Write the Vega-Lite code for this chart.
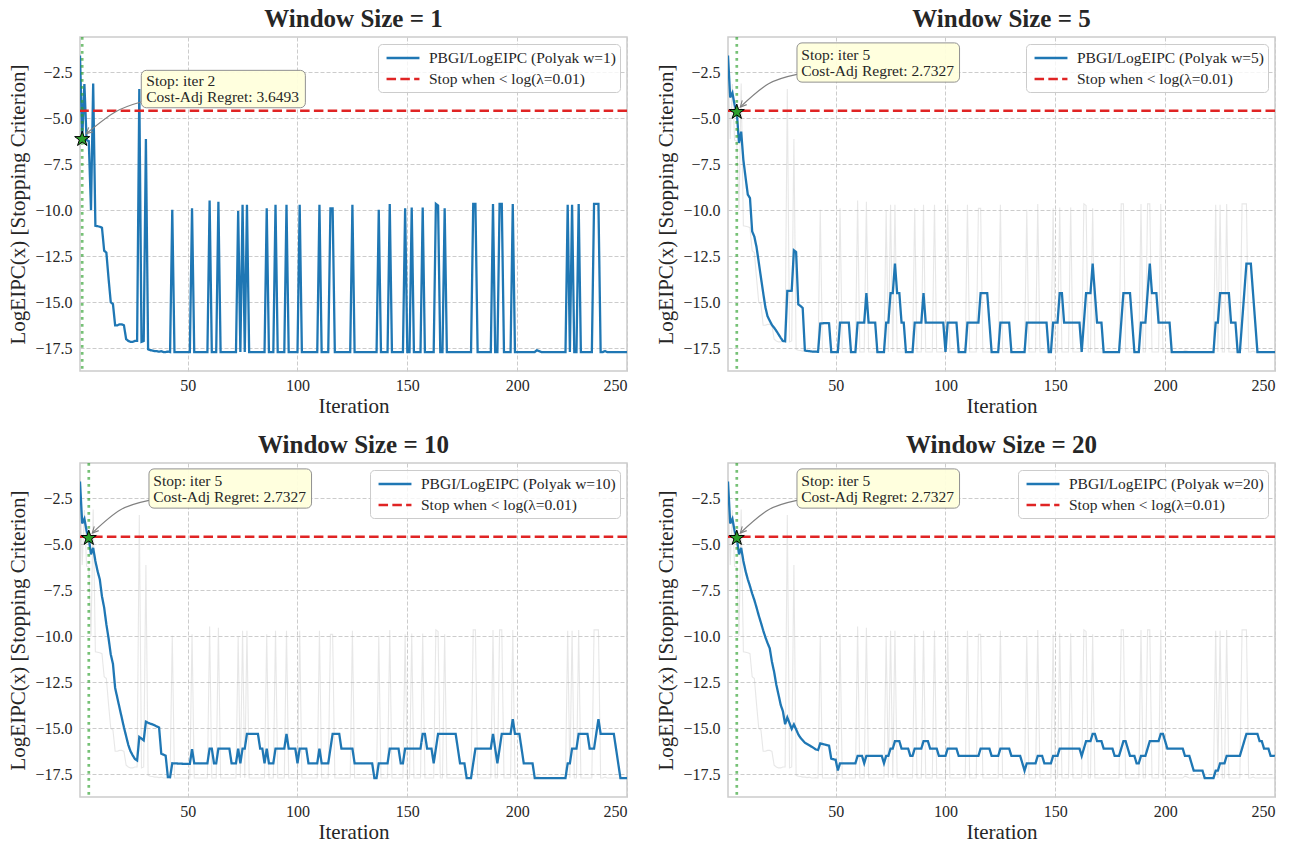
{
"$schema": "https://vega.github.io/schema/vega-lite/v6.json",
"background": "white",
"padding": {"left": 7, "top": 5, "right": 10, "bottom": 0},
"columns": 2,
"spacing": {"row": 92, "column": 101},
"bounds": "flush",
"resolve": {"scale": {"color": "independent", "strokeDash": "independent", "x": "independent", "y": "independent"}, "legend": {"color": "independent", "strokeDash": "independent"}},
"config": {
  "font": "Liberation Serif",
  "view": {"stroke": "#cccccc", "strokeWidth": 1.5},
  "axis": {"labelFont": "Liberation Serif", "labelFontSize": 16, "labelColor": "#262626", "titleFont": "Liberation Serif", "titleFontSize": 21, "titleFontWeight": "normal", "titleColor": "#262626", "gridColor": "#cccccc", "gridDash": [4, 2], "gridWidth": 1, "domain": false, "ticks": false},
  "axisX": {"labelPadding": 6, "titlePadding": 2},
  "axisY": {"labelPadding": 8, "titlePadding": 6},
  "title": {"font": "Liberation Serif", "fontSize": 25, "fontWeight": "bold", "color": "#262626", "offset": 0},
  "legend": {"orient": "top-right", "offset": 7, "padding": 4, "fillColor": "rgba(255,255,255,0.8)", "strokeColor": "#cccccc", "cornerRadius": 4, "labelFont": "Liberation Serif", "labelFontSize": 15.5, "labelColor": "#262626", "labelLimit": 400, "labelOffset": 16, "rowPadding": 2, "symbolOffset": 11, "symbolStrokeWidth": 2.3}
},
"datasets": {"main": [
{"i":1,"r":-1.61,"a":-1.61,"b":-1.61,"c":-1.61},
{"i":2,"r":-6.14,"a":-3.88,"b":-3.88,"c":-3.88},
{"i":3,"r":-3.15,"a":-3.63,"b":-3.63,"c":-3.63},
{"i":4,"r":-6.2,"a":-4.28,"b":-4.28,"c":-4.28},
{"i":5,"r":-6.25,"a":-4.67,"b":-4.67,"c":-4.67},
{"i":6,"r":-10.0,"a":-6.35,"b":-5.56,"c":-5.56},
{"i":7,"r":-3.12,"a":-5.74,"b":-5.21,"c":-5.21},
{"i":8,"r":-10.85,"a":-7.28,"b":-5.92,"c":-5.92},
{"i":9,"r":-10.87,"a":-8.22,"b":-6.47,"c":-6.47},
{"i":10,"r":-10.9,"a":-9.15,"b":-6.91,"c":-6.91},
{"i":11,"r":-10.95,"a":-9.34,"b":-7.84,"c":-7.28},
{"i":12,"r":-12.2,"a":-11.15,"b":-8.45,"c":-7.69},
{"i":13,"r":-12.3,"a":-11.44,"b":-9.36,"c":-8.04},
{"i":14,"r":-13.7,"a":-12.01,"b":-10.11,"c":-8.45},
{"i":15,"r":-15.0,"a":-12.83,"b":-10.99,"c":-8.88},
{"i":16,"r":-15.1,"a":-13.66,"b":-11.5,"c":-9.27},
{"i":17,"r":-16.25,"a":-14.47,"b":-12.81,"c":-9.68},
{"i":18,"r":-16.25,"a":-15.26,"b":-13.35,"c":-10.05},
{"i":19,"r":-16.2,"a":-15.76,"b":-13.89,"c":-10.37},
{"i":20,"r":-16.2,"a":-16.0,"b":-14.42,"c":-10.66},
{"i":21,"r":-16.25,"a":-16.23,"b":-14.95,"c":-11.39},
{"i":22,"r":-17.0,"a":-16.38,"b":-15.43,"c":-11.94},
{"i":23,"r":-17.1,"a":-16.55,"b":-15.91,"c":-12.64},
{"i":24,"r":-17.15,"a":-16.74,"b":-16.25,"c":-13.18},
{"i":25,"r":-17.15,"a":-16.93,"b":-16.47,"c":-13.73},
{"i":26,"r":-17.1,"a":-17.1,"b":-16.67,"c":-14.08},
{"i":27,"r":-17.1,"a":-17.12,"b":-16.75,"c":-14.78},
{"i":28,"r":-3.42,"a":-14.38,"b":-15.47,"c":-14.41},
{"i":29,"r":-17.15,"a":-14.38,"b":-15.56,"c":-14.72},
{"i":30,"r":-17.1,"a":-14.37,"b":-15.65,"c":-15.03},
{"i":31,"r":-6.14,"a":-12.18,"b":-14.64,"c":-14.79},
{"i":32,"r":-17.55,"a":-12.27,"b":-14.7,"c":-15.06},
{"i":33,"r":-17.6,"a":-15.11,"b":-14.75,"c":-15.33},
{"i":34,"r":-17.62,"a":-15.2,"b":-14.79,"c":-15.52},
{"i":35,"r":-17.65,"a":-15.31,"b":-14.84,"c":-15.65},
{"i":36,"r":-17.65,"a":-17.61,"b":-14.9,"c":-15.78},
{"i":37,"r":-17.68,"a":-17.64,"b":-14.96,"c":-15.85},
{"i":38,"r":-17.65,"a":-17.65,"b":-16.38,"c":-15.92},
{"i":39,"r":-17.7,"a":-17.67,"b":-16.43,"c":-16.0},
{"i":40,"r":-17.7,"a":-17.68,"b":-16.49,"c":-16.07},
{"i":41,"r":-17.68,"a":-17.68,"b":-17.65,"c":-16.15},
{"i":42,"r":-17.7,"a":-17.69,"b":-17.66,"c":-16.18},
{"i":43,"r":-9.98,"a":-16.15,"b":-16.9,"c":-15.82},
{"i":44,"r":-17.7,"a":-16.14,"b":-16.91,"c":-15.85},
{"i":45,"r":-17.7,"a":-16.13,"b":-16.91,"c":-15.88},
{"i":46,"r":-17.7,"a":-16.13,"b":-16.92,"c":-15.91},
{"i":47,"r":-17.7,"a":-16.14,"b":-16.92,"c":-15.94},
{"i":48,"r":-17.7,"a":-17.7,"b":-16.93,"c":-16.65},
{"i":49,"r":-17.7,"a":-17.7,"b":-16.93,"c":-16.68},
{"i":50,"r":-17.7,"a":-17.7,"b":-16.93,"c":-16.71},
{"i":51,"r":-17.7,"a":-17.7,"b":-16.93,"c":-17.29},
{"i":52,"r":-9.9,"a":-16.1,"b":-16.13,"c":-16.9},
{"i":53,"r":-17.7,"a":-16.1,"b":-16.9,"c":-16.9},
{"i":54,"r":-17.7,"a":-16.1,"b":-16.9,"c":-16.9},
{"i":55,"r":-17.7,"a":-16.1,"b":-16.9,"c":-16.9},
{"i":56,"r":-17.7,"a":-16.1,"b":-16.9,"c":-16.9},
{"i":57,"r":-17.7,"a":-17.7,"b":-16.9,"c":-16.9},
{"i":58,"r":-17.7,"a":-17.7,"b":-16.9,"c":-16.9},
{"i":59,"r":-17.7,"a":-17.7,"b":-16.9,"c":-16.9},
{"i":60,"r":-9.48,"a":-16.1,"b":-16.1,"c":-16.5},
{"i":61,"r":-17.7,"a":-16.1,"b":-16.1,"c":-16.5},
{"i":62,"r":-17.7,"a":-16.1,"b":-16.9,"c":-16.5},
{"i":63,"r":-17.7,"a":-16.1,"b":-16.9,"c":-16.9},
{"i":64,"r":-9.55,"a":-14.5,"b":-16.1,"c":-16.5},
{"i":65,"r":-17.7,"a":-16.1,"b":-16.1,"c":-16.5},
{"i":66,"r":-17.7,"a":-16.1,"b":-16.1,"c":-16.5},
{"i":67,"r":-17.7,"a":-16.1,"b":-16.1,"c":-16.5},
{"i":68,"r":-17.7,"a":-16.1,"b":-16.1,"c":-16.5},
{"i":69,"r":-17.7,"a":-17.7,"b":-16.1,"c":-16.5},
{"i":70,"r":-17.7,"a":-17.7,"b":-16.9,"c":-16.5},
{"i":71,"r":-17.7,"a":-17.7,"b":-16.9,"c":-16.5},
{"i":72,"r":-17.7,"a":-17.7,"b":-16.9,"c":-16.9},
{"i":73,"r":-10.05,"a":-16.1,"b":-16.1,"c":-16.5},
{"i":74,"r":-17.7,"a":-16.1,"b":-16.9,"c":-16.5},
{"i":75,"r":-9.7,"a":-14.5,"b":-16.1,"c":-16.1},
{"i":76,"r":-17.7,"a":-14.5,"b":-16.1,"c":-16.1},
{"i":77,"r":-9.7,"a":-12.9,"b":-15.3,"c":-15.7},
{"i":78,"r":-17.7,"a":-14.5,"b":-15.3,"c":-15.7},
{"i":79,"r":-17.7,"a":-14.5,"b":-15.3,"c":-15.7},
{"i":80,"r":-17.7,"a":-16.1,"b":-15.3,"c":-16.1},
{"i":81,"r":-17.7,"a":-16.1,"b":-15.3,"c":-16.1},
{"i":82,"r":-17.7,"a":-17.7,"b":-15.3,"c":-16.1},
{"i":83,"r":-17.7,"a":-17.7,"b":-16.1,"c":-16.1},
{"i":84,"r":-17.7,"a":-17.7,"b":-16.1,"c":-16.5},
{"i":85,"r":-17.7,"a":-17.7,"b":-16.9,"c":-16.5},
{"i":86,"r":-9.9,"a":-16.1,"b":-16.1,"c":-16.1},
{"i":87,"r":-17.7,"a":-16.1,"b":-16.9,"c":-16.1},
{"i":88,"r":-17.7,"a":-16.1,"b":-16.9,"c":-16.1},
{"i":89,"r":-17.7,"a":-16.1,"b":-16.9,"c":-16.1},
{"i":90,"r":-9.7,"a":-14.5,"b":-16.1,"c":-15.7},
{"i":91,"r":-17.7,"a":-16.1,"b":-16.1,"c":-15.7},
{"i":92,"r":-17.7,"a":-16.1,"b":-16.1,"c":-15.7},
{"i":93,"r":-17.7,"a":-16.1,"b":-16.1,"c":-16.1},
{"i":94,"r":-17.7,"a":-16.1,"b":-16.1,"c":-16.1},
{"i":95,"r":-9.7,"a":-16.1,"b":-15.3,"c":-16.1},
{"i":96,"r":-17.7,"a":-16.1,"b":-16.1,"c":-16.1},
{"i":97,"r":-17.7,"a":-16.1,"b":-16.1,"c":-16.5},
{"i":98,"r":-17.7,"a":-16.1,"b":-16.1,"c":-16.5},
{"i":99,"r":-17.7,"a":-16.1,"b":-16.1,"c":-16.5},
{"i":100,"r":-17.7,"a":-17.7,"b":-16.9,"c":-16.5},
{"i":101,"r":-9.7,"a":-16.1,"b":-16.1,"c":-16.1},
{"i":102,"r":-17.7,"a":-16.1,"b":-16.1,"c":-16.1},
{"i":103,"r":-17.7,"a":-16.1,"b":-16.1,"c":-16.1},
{"i":104,"r":-17.7,"a":-16.1,"b":-16.1,"c":-16.1},
{"i":105,"r":-17.7,"a":-16.1,"b":-16.9,"c":-16.1},
{"i":106,"r":-17.7,"a":-17.7,"b":-16.9,"c":-16.5},
{"i":107,"r":-17.7,"a":-17.7,"b":-16.9,"c":-16.5},
{"i":108,"r":-17.7,"a":-17.7,"b":-16.9,"c":-16.5},
{"i":109,"r":-17.7,"a":-17.7,"b":-16.9,"c":-16.5},
{"i":110,"r":-9.7,"a":-16.1,"b":-16.1,"c":-16.5},
{"i":111,"r":-17.7,"a":-16.1,"b":-16.9,"c":-16.5},
{"i":112,"r":-17.7,"a":-16.1,"b":-16.9,"c":-16.5},
{"i":113,"r":-17.7,"a":-16.1,"b":-16.9,"c":-16.5},
{"i":114,"r":-17.7,"a":-16.1,"b":-16.9,"c":-16.5},
{"i":115,"r":-9.9,"a":-16.1,"b":-16.1,"c":-16.5},
{"i":116,"r":-9.9,"a":-14.5,"b":-15.3,"c":-16.1},
{"i":117,"r":-17.7,"a":-14.5,"b":-15.3,"c":-16.1},
{"i":118,"r":-17.7,"a":-14.5,"b":-15.3,"c":-16.1},
{"i":119,"r":-17.7,"a":-14.5,"b":-15.3,"c":-16.1},
{"i":120,"r":-17.7,"a":-16.1,"b":-16.1,"c":-16.1},
{"i":121,"r":-17.7,"a":-17.7,"b":-16.1,"c":-16.5},
{"i":122,"r":-17.7,"a":-17.7,"b":-16.1,"c":-16.5},
{"i":123,"r":-17.7,"a":-17.7,"b":-16.1,"c":-16.5},
{"i":124,"r":-17.7,"a":-17.7,"b":-16.1,"c":-16.5},
{"i":125,"r":-9.7,"a":-16.1,"b":-16.1,"c":-16.1},
{"i":126,"r":-17.7,"a":-16.1,"b":-16.9,"c":-16.1},
{"i":127,"r":-17.7,"a":-16.1,"b":-16.9,"c":-16.1},
{"i":128,"r":-17.7,"a":-16.1,"b":-16.9,"c":-16.1},
{"i":129,"r":-17.7,"a":-16.1,"b":-16.9,"c":-16.1},
{"i":130,"r":-17.7,"a":-17.7,"b":-16.9,"c":-16.5},
{"i":131,"r":-17.7,"a":-17.7,"b":-16.9,"c":-16.5},
{"i":132,"r":-17.7,"a":-17.7,"b":-16.9,"c":-16.5},
{"i":133,"r":-17.7,"a":-17.7,"b":-16.9,"c":-16.5},
{"i":134,"r":-17.7,"a":-17.7,"b":-16.9,"c":-16.5},
{"i":135,"r":-17.7,"a":-17.7,"b":-17.7,"c":-16.9},
{"i":136,"r":-17.7,"a":-17.7,"b":-17.7,"c":-17.3},
{"i":137,"r":-9.98,"a":-16.1,"b":-16.9,"c":-16.9},
{"i":138,"r":-17.7,"a":-16.1,"b":-16.9,"c":-16.9},
{"i":139,"r":-17.7,"a":-16.1,"b":-16.9,"c":-16.9},
{"i":140,"r":-17.7,"a":-16.1,"b":-16.9,"c":-16.9},
{"i":141,"r":-17.7,"a":-16.1,"b":-16.9,"c":-16.9},
{"i":142,"r":-9.66,"a":-16.1,"b":-16.1,"c":-16.5},
{"i":143,"r":-17.7,"a":-16.1,"b":-16.1,"c":-16.5},
{"i":144,"r":-17.7,"a":-16.1,"b":-16.1,"c":-16.5},
{"i":145,"r":-17.7,"a":-16.1,"b":-16.1,"c":-16.9},
{"i":146,"r":-17.7,"a":-16.1,"b":-16.1,"c":-16.9},
{"i":147,"r":-17.7,"a":-17.7,"b":-16.9,"c":-16.9},
{"i":148,"r":-17.7,"a":-17.7,"b":-16.9,"c":-16.9},
{"i":149,"r":-9.9,"a":-16.1,"b":-16.1,"c":-16.5},
{"i":150,"r":-17.7,"a":-16.1,"b":-16.1,"c":-16.5},
{"i":151,"r":-17.7,"a":-16.1,"b":-16.1,"c":-16.5},
{"i":152,"r":-9.85,"a":-14.5,"b":-16.1,"c":-16.1},
{"i":153,"r":-17.7,"a":-14.5,"b":-16.1,"c":-16.1},
{"i":154,"r":-17.7,"a":-16.1,"b":-16.1,"c":-16.1},
{"i":155,"r":-17.7,"a":-16.1,"b":-16.1,"c":-16.1},
{"i":156,"r":-17.7,"a":-16.1,"b":-16.1,"c":-16.1},
{"i":157,"r":-9.85,"a":-16.1,"b":-15.3,"c":-16.1},
{"i":158,"r":-17.7,"a":-16.1,"b":-15.3,"c":-16.1},
{"i":159,"r":-17.7,"a":-16.1,"b":-16.1,"c":-16.1},
{"i":160,"r":-17.7,"a":-16.1,"b":-16.1,"c":-16.1},
{"i":161,"r":-17.7,"a":-16.1,"b":-16.1,"c":-16.1},
{"i":162,"r":-17.7,"a":-17.7,"b":-16.9,"c":-16.5},
{"i":163,"r":-9.66,"a":-16.1,"b":-16.1,"c":-16.1},
{"i":164,"r":-9.75,"a":-14.5,"b":-15.3,"c":-15.7},
{"i":165,"r":-17.7,"a":-14.5,"b":-15.3,"c":-15.7},
{"i":166,"r":-17.7,"a":-14.5,"b":-15.3,"c":-15.7},
{"i":167,"r":-9.9,"a":-12.9,"b":-15.3,"c":-15.3},
{"i":168,"r":-17.7,"a":-14.5,"b":-15.3,"c":-15.3},
{"i":169,"r":-17.7,"a":-16.1,"b":-15.3,"c":-15.7},
{"i":170,"r":-17.7,"a":-16.1,"b":-15.3,"c":-15.7},
{"i":171,"r":-17.7,"a":-16.1,"b":-15.3,"c":-15.7},
{"i":172,"r":-17.7,"a":-17.7,"b":-15.3,"c":-16.1},
{"i":173,"r":-17.7,"a":-17.7,"b":-16.1,"c":-16.1},
{"i":174,"r":-17.7,"a":-17.7,"b":-16.9,"c":-16.1},
{"i":175,"r":-17.7,"a":-17.7,"b":-16.9,"c":-16.1},
{"i":176,"r":-17.7,"a":-17.7,"b":-16.9,"c":-16.1},
{"i":177,"r":-17.7,"a":-17.7,"b":-17.7,"c":-16.5},
{"i":178,"r":-17.7,"a":-17.7,"b":-17.7,"c":-16.5},
{"i":179,"r":-17.7,"a":-17.7,"b":-17.7,"c":-16.5},
{"i":180,"r":-9.66,"a":-16.1,"b":-16.9,"c":-16.1},
{"i":181,"r":-9.66,"a":-14.5,"b":-16.1,"c":-15.7},
{"i":182,"r":-17.7,"a":-14.5,"b":-16.1,"c":-15.7},
{"i":183,"r":-17.7,"a":-14.5,"b":-16.1,"c":-16.1},
{"i":184,"r":-17.7,"a":-14.5,"b":-16.1,"c":-16.5},
{"i":185,"r":-17.7,"a":-16.1,"b":-16.1,"c":-16.5},
{"i":186,"r":-17.7,"a":-17.7,"b":-16.1,"c":-16.5},
{"i":187,"r":-17.7,"a":-17.7,"b":-16.1,"c":-16.9},
{"i":188,"r":-17.7,"a":-17.7,"b":-16.1,"c":-16.9},
{"i":189,"r":-9.66,"a":-16.1,"b":-15.3,"c":-16.5},
{"i":190,"r":-17.7,"a":-16.1,"b":-16.1,"c":-16.5},
{"i":191,"r":-17.7,"a":-16.1,"b":-16.9,"c":-16.5},
{"i":192,"r":-9.66,"a":-14.5,"b":-16.1,"c":-16.1},
{"i":193,"r":-9.66,"a":-12.9,"b":-15.3,"c":-15.7},
{"i":194,"r":-17.7,"a":-14.5,"b":-15.3,"c":-15.7},
{"i":195,"r":-17.7,"a":-14.5,"b":-15.3,"c":-15.7},
{"i":196,"r":-17.7,"a":-14.5,"b":-15.3,"c":-15.7},
{"i":197,"r":-17.7,"a":-16.1,"b":-15.3,"c":-15.7},
{"i":198,"r":-9.66,"a":-16.1,"b":-14.5,"c":-15.3},
{"i":199,"r":-17.7,"a":-16.1,"b":-15.3,"c":-15.3},
{"i":200,"r":-17.7,"a":-16.1,"b":-15.3,"c":-15.7},
{"i":201,"r":-17.7,"a":-16.1,"b":-15.3,"c":-16.1},
{"i":202,"r":-17.7,"a":-16.1,"b":-16.1,"c":-16.1},
{"i":203,"r":-17.7,"a":-17.7,"b":-16.9,"c":-16.1},
{"i":204,"r":-17.7,"a":-17.7,"b":-16.9,"c":-16.1},
{"i":205,"r":-17.7,"a":-17.7,"b":-16.9,"c":-16.1},
{"i":206,"r":-17.7,"a":-17.7,"b":-16.9,"c":-16.1},
{"i":207,"r":-17.7,"a":-17.7,"b":-16.9,"c":-16.1},
{"i":208,"r":-17.7,"a":-17.7,"b":-17.7,"c":-16.1},
{"i":209,"r":-17.6,"a":-17.7,"b":-17.7,"c":-16.5},
{"i":210,"r":-17.65,"a":-17.7,"b":-17.7,"c":-16.5},
{"i":211,"r":-17.7,"a":-17.7,"b":-17.7,"c":-16.5},
{"i":212,"r":-17.7,"a":-17.7,"b":-17.7,"c":-16.9},
{"i":213,"r":-17.7,"a":-17.7,"b":-17.7,"c":-17.3},
{"i":214,"r":-17.7,"a":-17.7,"b":-17.7,"c":-17.3},
{"i":215,"r":-17.7,"a":-17.7,"b":-17.7,"c":-17.3},
{"i":216,"r":-17.7,"a":-17.7,"b":-17.7,"c":-17.3},
{"i":217,"r":-17.7,"a":-17.7,"b":-17.7,"c":-17.3},
{"i":218,"r":-17.7,"a":-17.7,"b":-17.7,"c":-17.7},
{"i":219,"r":-17.7,"a":-17.7,"b":-17.7,"c":-17.7},
{"i":220,"r":-17.7,"a":-17.7,"b":-17.7,"c":-17.7},
{"i":221,"r":-17.7,"a":-17.7,"b":-17.7,"c":-17.7},
{"i":222,"r":-17.7,"a":-17.7,"b":-17.7,"c":-17.7},
{"i":223,"r":-9.7,"a":-16.1,"b":-16.9,"c":-17.3},
{"i":224,"r":-17.7,"a":-16.1,"b":-16.9,"c":-17.3},
{"i":225,"r":-9.7,"a":-14.5,"b":-16.1,"c":-16.9},
{"i":226,"r":-17.7,"a":-14.5,"b":-16.1,"c":-16.9},
{"i":227,"r":-17.7,"a":-14.5,"b":-16.1,"c":-16.9},
{"i":228,"r":-9.66,"a":-14.5,"b":-15.3,"c":-16.5},
{"i":229,"r":-17.7,"a":-14.5,"b":-15.3,"c":-16.5},
{"i":230,"r":-17.7,"a":-16.1,"b":-15.3,"c":-16.5},
{"i":231,"r":-17.7,"a":-16.1,"b":-15.3,"c":-16.5},
{"i":232,"r":-17.7,"a":-16.1,"b":-15.3,"c":-16.5},
{"i":233,"r":-17.7,"a":-17.7,"b":-16.1,"c":-16.5},
{"i":234,"r":-17.7,"a":-17.7,"b":-16.1,"c":-16.5},
{"i":235,"r":-9.66,"a":-16.1,"b":-16.1,"c":-16.1},
{"i":236,"r":-9.66,"a":-14.5,"b":-15.3,"c":-15.7},
{"i":237,"r":-9.66,"a":-12.9,"b":-14.5,"c":-15.3},
{"i":238,"r":-17.7,"a":-12.9,"b":-15.3,"c":-15.3},
{"i":239,"r":-17.7,"a":-12.9,"b":-15.3,"c":-15.3},
{"i":240,"r":-17.65,"a":-14.5,"b":-15.3,"c":-15.3},
{"i":241,"r":-17.7,"a":-16.1,"b":-15.3,"c":-15.3},
{"i":242,"r":-17.7,"a":-17.7,"b":-15.3,"c":-15.3},
{"i":243,"r":-17.7,"a":-17.7,"b":-15.3,"c":-15.7},
{"i":244,"r":-17.7,"a":-17.7,"b":-15.3,"c":-15.7},
{"i":245,"r":-17.7,"a":-17.7,"b":-16.1,"c":-16.1},
{"i":246,"r":-17.7,"a":-17.7,"b":-16.9,"c":-16.1},
{"i":247,"r":-17.7,"a":-17.7,"b":-17.7,"c":-16.1},
{"i":248,"r":-17.7,"a":-17.7,"b":-17.7,"c":-16.5},
{"i":249,"r":-17.7,"a":-17.7,"b":-17.7,"c":-16.5},
{"i":250,"r":-17.7,"a":-17.7,"b":-17.7,"c":-16.5}
]},
"concat": [
{
 "title": "Window Size = 1", "width": 547, "height": 334,
 "layer": [
  {"data": {"name": "main"}, "mark": {"type": "line", "strokeWidth": 2.3, "clip": true},
   "encoding": {
    "x": {"field": "i", "type": "quantitative", "title": "Iteration", "scale": {"domain": [1, 250], "nice": false, "zero": false}, "axis": {"values": [50, 100, 150, 200, 250], "format": "d"}},
    "y": {"field": "r", "type": "quantitative", "title": "LogEIPC(x) [Stopping Criterion]", "scale": {"domain": [-18.73, -0.6], "nice": false, "zero": false}, "axis": {"values": [-17.5, -15, -12.5, -10, -7.5, -5, -2.5], "format": ".1f"}},
    "color": {"datum": "PBGI/LogEIPC (Polyak w=1)", "scale": {"domain": ["PBGI/LogEIPC (Polyak w=1)", "Stop when < log(λ=0.01)"], "range": ["#1f77b4", "#e02424"]}, "legend": {"title": null, "symbolType": "M-1.9,0L1.9,0", "symbolSize": 300}},
    "strokeDash": {"datum": "PBGI/LogEIPC (Polyak w=1)", "scale": {"domain": ["PBGI/LogEIPC (Polyak w=1)", "Stop when < log(λ=0.01)"], "range": [[1, 0], [9.5, 4.3]]}, "legend": {"title": null, "symbolType": "M-1.9,0L1.9,0", "symbolSize": 300}}
   }},
  {"data": {"values": [{"v": -4.605}]}, "mark": {"type": "rule", "strokeWidth": 2.6},
   "encoding": {"y": {"field": "v", "type": "quantitative", "title": "LogEIPC(x) [Stopping Criterion]", "scale": {"domain": [-18.73, -0.6], "nice": false, "zero": false}}, "color": {"datum": "Stop when < log(λ=0.01)"}, "strokeDash": {"datum": "Stop when < log(λ=0.01)"}}},
  {"data": {"values": [{"i": 2}]}, "mark": {"type": "rule", "color": "#2ca02c", "opacity": 0.65, "strokeWidth": 2.7, "strokeDash": [2.7, 4.3]},
   "encoding": {"x": {"field": "i", "type": "quantitative", "title": "Iteration", "scale": {"domain": [1, 250], "nice": false, "zero": false}}}},
  {"data": {"values": [{"i": 3.83, "v": -5.85}, {"i": 17.04, "v": -4.67}, {"i": 28.76, "v": -4.13}]}, "mark": {"type": "line", "color": "#808080", "strokeWidth": 1.1, "interpolate": "natural"},
   "encoding": {"x": {"field": "i", "type": "quantitative", "title": "Iteration", "scale": {"domain": [1, 250], "nice": false, "zero": false}}, "y": {"field": "v", "type": "quantitative", "title": "LogEIPC(x) [Stopping Criterion]", "scale": {"domain": [-18.73, -0.6], "nice": false, "zero": false}}}},
  {"data": {"values": [{"i": 3.83, "v": -5.85}]}, "mark": {"type": "point", "shape": "M-1,-0.5L0,0L-1,0.5", "filled": false, "size": 150, "angle": 138, "color": "#808080", "strokeWidth": 1.1, "opacity": 1},
   "encoding": {"x": {"field": "i", "type": "quantitative", "title": "Iteration", "scale": {"domain": [1, 250], "nice": false, "zero": false}}, "y": {"field": "v", "type": "quantitative", "title": "LogEIPC(x) [Stopping Criterion]", "scale": {"domain": [-18.73, -0.6], "nice": false, "zero": false}}}},
  {"data": {"values": [{"i": 2, "v": -6.14}]}, "mark": {"type": "point", "shape": "M0,-1L0.225,-0.309L0.951,-0.309L0.363,0.118L0.588,0.809L0,0.382L-0.588,0.809L-0.363,0.118L-0.951,-0.309L-0.225,-0.309Z", "size": 250, "filled": true, "fill": "#2ca02c", "stroke": "#000000", "strokeWidth": 1, "opacity": 1},
   "encoding": {"x": {"field": "i", "type": "quantitative", "title": "Iteration", "scale": {"domain": [1, 250], "nice": false, "zero": false}}, "y": {"field": "v", "type": "quantitative", "title": "LogEIPC(x) [Stopping Criterion]", "scale": {"domain": [-18.73, -0.6], "nice": false, "zero": false}}}},
  {"data": {"values": [{"i": 28.9, "i2": 103.6, "v": -2.41, "v2": -4.44}]}, "mark": {"type": "rect", "fill": "#ffffdd", "stroke": "#8c8c8c", "strokeWidth": 1, "cornerRadius": 5, "opacity": 0.95},
   "encoding": {"x": {"field": "i", "type": "quantitative", "title": "Iteration", "scale": {"domain": [1, 250], "nice": false, "zero": false}}, "x2": {"field": "i2"}, "y": {"field": "v", "type": "quantitative", "title": "LogEIPC(x) [Stopping Criterion]", "scale": {"domain": [-18.73, -0.6], "nice": false, "zero": false}}, "y2": {"field": "v2"}}},
  {"data": {"values": [{"i": 31.17, "v": -3.0, "t": ["Stop: iter 2", "Cost-Adj Regret: 3.6493"]}]}, "mark": {"type": "text", "align": "left", "baseline": "middle", "fontSize": 15.5, "lineHeight": 16, "font": "Liberation Serif", "color": "#262626"},
   "encoding": {"x": {"field": "i", "type": "quantitative", "title": "Iteration", "scale": {"domain": [1, 250], "nice": false, "zero": false}}, "y": {"field": "v", "type": "quantitative", "title": "LogEIPC(x) [Stopping Criterion]", "scale": {"domain": [-18.73, -0.6], "nice": false, "zero": false}}, "text": {"field": "t"}}}
 ]
},
{
 "title": "Window Size = 5", "width": 547, "height": 334,
 "layer": [
  {"data": {"name": "main"}, "mark": {"type": "line", "color": "#bbbbbb", "strokeWidth": 1.1, "opacity": 0.35, "clip": true},
   "encoding": {
    "x": {"field": "i", "type": "quantitative", "title": "Iteration", "scale": {"domain": [1, 250], "nice": false, "zero": false}, "axis": {"values": [50, 100, 150, 200, 250], "format": "d"}},
    "y": {"field": "r", "type": "quantitative", "title": "LogEIPC(x) [Stopping Criterion]", "scale": {"domain": [-18.73, -0.6], "nice": false, "zero": false}, "axis": {"values": [-17.5, -15, -12.5, -10, -7.5, -5, -2.5], "format": ".1f"}}
   }},
  {"data": {"name": "main"}, "mark": {"type": "line", "strokeWidth": 2.3, "clip": true},
   "encoding": {
    "x": {"field": "i", "type": "quantitative", "title": "Iteration", "scale": {"domain": [1, 250], "nice": false, "zero": false}},
    "y": {"field": "a", "type": "quantitative", "title": "LogEIPC(x) [Stopping Criterion]", "scale": {"domain": [-18.73, -0.6], "nice": false, "zero": false}},
    "color": {"datum": "PBGI/LogEIPC (Polyak w=5)", "scale": {"domain": ["PBGI/LogEIPC (Polyak w=5)", "Stop when < log(λ=0.01)"], "range": ["#1f77b4", "#e02424"]}, "legend": {"title": null, "symbolType": "M-1.9,0L1.9,0", "symbolSize": 300}},
    "strokeDash": {"datum": "PBGI/LogEIPC (Polyak w=5)", "scale": {"domain": ["PBGI/LogEIPC (Polyak w=5)", "Stop when < log(λ=0.01)"], "range": [[1, 0], [9.5, 4.3]]}, "legend": {"title": null, "symbolType": "M-1.9,0L1.9,0", "symbolSize": 300}}
   }},
  {"data": {"values": [{"v": -4.605}]}, "mark": {"type": "rule", "strokeWidth": 2.6},
   "encoding": {"y": {"field": "v", "type": "quantitative", "title": "LogEIPC(x) [Stopping Criterion]", "scale": {"domain": [-18.73, -0.6], "nice": false, "zero": false}}, "color": {"datum": "Stop when < log(λ=0.01)"}, "strokeDash": {"datum": "Stop when < log(λ=0.01)"}}},
  {"data": {"values": [{"i": 5}]}, "mark": {"type": "rule", "color": "#2ca02c", "opacity": 0.65, "strokeWidth": 2.7, "strokeDash": [2.7, 4.3]},
   "encoding": {"x": {"field": "i", "type": "quantitative", "title": "Iteration", "scale": {"domain": [1, 250], "nice": false, "zero": false}}}},
  {"data": {"values": [{"i": 6.6, "v": -4.4}, {"i": 19.47, "v": -3.14}, {"i": 32.4, "v": -2.63}]}, "mark": {"type": "line", "color": "#808080", "strokeWidth": 1.1, "interpolate": "natural"},
   "encoding": {"x": {"field": "i", "type": "quantitative", "title": "Iteration", "scale": {"domain": [1, 250], "nice": false, "zero": false}}, "y": {"field": "v", "type": "quantitative", "title": "LogEIPC(x) [Stopping Criterion]", "scale": {"domain": [-18.73, -0.6], "nice": false, "zero": false}}}},
  {"data": {"values": [{"i": 6.6, "v": -4.4}]}, "mark": {"type": "point", "shape": "M-1,-0.5L0,0L-1,0.5", "filled": false, "size": 150, "angle": 133, "color": "#808080", "strokeWidth": 1.1, "opacity": 1},
   "encoding": {"x": {"field": "i", "type": "quantitative", "title": "Iteration", "scale": {"domain": [1, 250], "nice": false, "zero": false}}, "y": {"field": "v", "type": "quantitative", "title": "LogEIPC(x) [Stopping Criterion]", "scale": {"domain": [-18.73, -0.6], "nice": false, "zero": false}}}},
  {"data": {"values": [{"i": 5, "v": -4.67}]}, "mark": {"type": "point", "shape": "M0,-1L0.225,-0.309L0.951,-0.309L0.363,0.118L0.588,0.809L0,0.382L-0.588,0.809L-0.363,0.118L-0.951,-0.309L-0.225,-0.309Z", "size": 250, "filled": true, "fill": "#2ca02c", "stroke": "#000000", "strokeWidth": 1, "opacity": 1},
   "encoding": {"x": {"field": "i", "type": "quantitative", "title": "Iteration", "scale": {"domain": [1, 250], "nice": false, "zero": false}}, "y": {"field": "v", "type": "quantitative", "title": "LogEIPC(x) [Stopping Criterion]", "scale": {"domain": [-18.73, -0.6], "nice": false, "zero": false}}}},
  {"data": {"values": [{"i": 32.4, "i2": 106.4, "v": -0.92, "v2": -3.05}]}, "mark": {"type": "rect", "fill": "#ffffdd", "stroke": "#8c8c8c", "strokeWidth": 1, "cornerRadius": 5, "opacity": 0.95},
   "encoding": {"x": {"field": "i", "type": "quantitative", "title": "Iteration", "scale": {"domain": [1, 250], "nice": false, "zero": false}}, "x2": {"field": "i2"}, "y": {"field": "v", "type": "quantitative", "title": "LogEIPC(x) [Stopping Criterion]", "scale": {"domain": [-18.73, -0.6], "nice": false, "zero": false}}, "y2": {"field": "v2"}}},
  {"data": {"values": [{"i": 34.35, "v": -1.55, "t": ["Stop: iter 5", "Cost-Adj Regret: 2.7327"]}]}, "mark": {"type": "text", "align": "left", "baseline": "middle", "fontSize": 15.5, "lineHeight": 16, "font": "Liberation Serif", "color": "#262626"},
   "encoding": {"x": {"field": "i", "type": "quantitative", "title": "Iteration", "scale": {"domain": [1, 250], "nice": false, "zero": false}}, "y": {"field": "v", "type": "quantitative", "title": "LogEIPC(x) [Stopping Criterion]", "scale": {"domain": [-18.73, -0.6], "nice": false, "zero": false}}, "text": {"field": "t"}}}
 ]
},
{
 "title": "Window Size = 10", "width": 547, "height": 334,
 "layer": [
  {"data": {"name": "main"}, "mark": {"type": "line", "color": "#bbbbbb", "strokeWidth": 1.1, "opacity": 0.35, "clip": true},
   "encoding": {
    "x": {"field": "i", "type": "quantitative", "title": "Iteration", "scale": {"domain": [1, 250], "nice": false, "zero": false}, "axis": {"values": [50, 100, 150, 200, 250], "format": "d"}},
    "y": {"field": "r", "type": "quantitative", "title": "LogEIPC(x) [Stopping Criterion]", "scale": {"domain": [-18.73, -0.6], "nice": false, "zero": false}, "axis": {"values": [-17.5, -15, -12.5, -10, -7.5, -5, -2.5], "format": ".1f"}}
   }},
  {"data": {"name": "main"}, "mark": {"type": "line", "strokeWidth": 2.3, "clip": true},
   "encoding": {
    "x": {"field": "i", "type": "quantitative", "title": "Iteration", "scale": {"domain": [1, 250], "nice": false, "zero": false}},
    "y": {"field": "b", "type": "quantitative", "title": "LogEIPC(x) [Stopping Criterion]", "scale": {"domain": [-18.73, -0.6], "nice": false, "zero": false}},
    "color": {"datum": "PBGI/LogEIPC (Polyak w=10)", "scale": {"domain": ["PBGI/LogEIPC (Polyak w=10)", "Stop when < log(λ=0.01)"], "range": ["#1f77b4", "#e02424"]}, "legend": {"title": null, "symbolType": "M-1.9,0L1.9,0", "symbolSize": 300}},
    "strokeDash": {"datum": "PBGI/LogEIPC (Polyak w=10)", "scale": {"domain": ["PBGI/LogEIPC (Polyak w=10)", "Stop when < log(λ=0.01)"], "range": [[1, 0], [9.5, 4.3]]}, "legend": {"title": null, "symbolType": "M-1.9,0L1.9,0", "symbolSize": 300}}
   }},
  {"data": {"values": [{"v": -4.605}]}, "mark": {"type": "rule", "strokeWidth": 2.6},
   "encoding": {"y": {"field": "v", "type": "quantitative", "title": "LogEIPC(x) [Stopping Criterion]", "scale": {"domain": [-18.73, -0.6], "nice": false, "zero": false}}, "color": {"datum": "Stop when < log(λ=0.01)"}, "strokeDash": {"datum": "Stop when < log(λ=0.01)"}}},
  {"data": {"values": [{"i": 5}]}, "mark": {"type": "rule", "color": "#2ca02c", "opacity": 0.65, "strokeWidth": 2.7, "strokeDash": [2.7, 4.3]},
   "encoding": {"x": {"field": "i", "type": "quantitative", "title": "Iteration", "scale": {"domain": [1, 250], "nice": false, "zero": false}}}},
  {"data": {"values": [{"i": 6.6, "v": -4.4}, {"i": 19.47, "v": -3.14}, {"i": 32.4, "v": -2.63}]}, "mark": {"type": "line", "color": "#808080", "strokeWidth": 1.1, "interpolate": "natural"},
   "encoding": {"x": {"field": "i", "type": "quantitative", "title": "Iteration", "scale": {"domain": [1, 250], "nice": false, "zero": false}}, "y": {"field": "v", "type": "quantitative", "title": "LogEIPC(x) [Stopping Criterion]", "scale": {"domain": [-18.73, -0.6], "nice": false, "zero": false}}}},
  {"data": {"values": [{"i": 6.6, "v": -4.4}]}, "mark": {"type": "point", "shape": "M-1,-0.5L0,0L-1,0.5", "filled": false, "size": 150, "angle": 133, "color": "#808080", "strokeWidth": 1.1, "opacity": 1},
   "encoding": {"x": {"field": "i", "type": "quantitative", "title": "Iteration", "scale": {"domain": [1, 250], "nice": false, "zero": false}}, "y": {"field": "v", "type": "quantitative", "title": "LogEIPC(x) [Stopping Criterion]", "scale": {"domain": [-18.73, -0.6], "nice": false, "zero": false}}}},
  {"data": {"values": [{"i": 5, "v": -4.67}]}, "mark": {"type": "point", "shape": "M0,-1L0.225,-0.309L0.951,-0.309L0.363,0.118L0.588,0.809L0,0.382L-0.588,0.809L-0.363,0.118L-0.951,-0.309L-0.225,-0.309Z", "size": 250, "filled": true, "fill": "#2ca02c", "stroke": "#000000", "strokeWidth": 1, "opacity": 1},
   "encoding": {"x": {"field": "i", "type": "quantitative", "title": "Iteration", "scale": {"domain": [1, 250], "nice": false, "zero": false}}, "y": {"field": "v", "type": "quantitative", "title": "LogEIPC(x) [Stopping Criterion]", "scale": {"domain": [-18.73, -0.6], "nice": false, "zero": false}}}},
  {"data": {"values": [{"i": 32.4, "i2": 106.4, "v": -0.92, "v2": -3.05}]}, "mark": {"type": "rect", "fill": "#ffffdd", "stroke": "#8c8c8c", "strokeWidth": 1, "cornerRadius": 5, "opacity": 0.95},
   "encoding": {"x": {"field": "i", "type": "quantitative", "title": "Iteration", "scale": {"domain": [1, 250], "nice": false, "zero": false}}, "x2": {"field": "i2"}, "y": {"field": "v", "type": "quantitative", "title": "LogEIPC(x) [Stopping Criterion]", "scale": {"domain": [-18.73, -0.6], "nice": false, "zero": false}}, "y2": {"field": "v2"}}},
  {"data": {"values": [{"i": 34.35, "v": -1.55, "t": ["Stop: iter 5", "Cost-Adj Regret: 2.7327"]}]}, "mark": {"type": "text", "align": "left", "baseline": "middle", "fontSize": 15.5, "lineHeight": 16, "font": "Liberation Serif", "color": "#262626"},
   "encoding": {"x": {"field": "i", "type": "quantitative", "title": "Iteration", "scale": {"domain": [1, 250], "nice": false, "zero": false}}, "y": {"field": "v", "type": "quantitative", "title": "LogEIPC(x) [Stopping Criterion]", "scale": {"domain": [-18.73, -0.6], "nice": false, "zero": false}}, "text": {"field": "t"}}}
 ]
},
{
 "title": "Window Size = 20", "width": 547, "height": 334,
 "layer": [
  {"data": {"name": "main"}, "mark": {"type": "line", "color": "#bbbbbb", "strokeWidth": 1.1, "opacity": 0.35, "clip": true},
   "encoding": {
    "x": {"field": "i", "type": "quantitative", "title": "Iteration", "scale": {"domain": [1, 250], "nice": false, "zero": false}, "axis": {"values": [50, 100, 150, 200, 250], "format": "d"}},
    "y": {"field": "r", "type": "quantitative", "title": "LogEIPC(x) [Stopping Criterion]", "scale": {"domain": [-18.73, -0.6], "nice": false, "zero": false}, "axis": {"values": [-17.5, -15, -12.5, -10, -7.5, -5, -2.5], "format": ".1f"}}
   }},
  {"data": {"name": "main"}, "mark": {"type": "line", "strokeWidth": 2.3, "clip": true},
   "encoding": {
    "x": {"field": "i", "type": "quantitative", "title": "Iteration", "scale": {"domain": [1, 250], "nice": false, "zero": false}},
    "y": {"field": "c", "type": "quantitative", "title": "LogEIPC(x) [Stopping Criterion]", "scale": {"domain": [-18.73, -0.6], "nice": false, "zero": false}},
    "color": {"datum": "PBGI/LogEIPC (Polyak w=20)", "scale": {"domain": ["PBGI/LogEIPC (Polyak w=20)", "Stop when < log(λ=0.01)"], "range": ["#1f77b4", "#e02424"]}, "legend": {"title": null, "symbolType": "M-1.9,0L1.9,0", "symbolSize": 300}},
    "strokeDash": {"datum": "PBGI/LogEIPC (Polyak w=20)", "scale": {"domain": ["PBGI/LogEIPC (Polyak w=20)", "Stop when < log(λ=0.01)"], "range": [[1, 0], [9.5, 4.3]]}, "legend": {"title": null, "symbolType": "M-1.9,0L1.9,0", "symbolSize": 300}}
   }},
  {"data": {"values": [{"v": -4.605}]}, "mark": {"type": "rule", "strokeWidth": 2.6},
   "encoding": {"y": {"field": "v", "type": "quantitative", "title": "LogEIPC(x) [Stopping Criterion]", "scale": {"domain": [-18.73, -0.6], "nice": false, "zero": false}}, "color": {"datum": "Stop when < log(λ=0.01)"}, "strokeDash": {"datum": "Stop when < log(λ=0.01)"}}},
  {"data": {"values": [{"i": 5}]}, "mark": {"type": "rule", "color": "#2ca02c", "opacity": 0.65, "strokeWidth": 2.7, "strokeDash": [2.7, 4.3]},
   "encoding": {"x": {"field": "i", "type": "quantitative", "title": "Iteration", "scale": {"domain": [1, 250], "nice": false, "zero": false}}}},
  {"data": {"values": [{"i": 6.6, "v": -4.4}, {"i": 19.47, "v": -3.14}, {"i": 32.4, "v": -2.63}]}, "mark": {"type": "line", "color": "#808080", "strokeWidth": 1.1, "interpolate": "natural"},
   "encoding": {"x": {"field": "i", "type": "quantitative", "title": "Iteration", "scale": {"domain": [1, 250], "nice": false, "zero": false}}, "y": {"field": "v", "type": "quantitative", "title": "LogEIPC(x) [Stopping Criterion]", "scale": {"domain": [-18.73, -0.6], "nice": false, "zero": false}}}},
  {"data": {"values": [{"i": 6.6, "v": -4.4}]}, "mark": {"type": "point", "shape": "M-1,-0.5L0,0L-1,0.5", "filled": false, "size": 150, "angle": 133, "color": "#808080", "strokeWidth": 1.1, "opacity": 1},
   "encoding": {"x": {"field": "i", "type": "quantitative", "title": "Iteration", "scale": {"domain": [1, 250], "nice": false, "zero": false}}, "y": {"field": "v", "type": "quantitative", "title": "LogEIPC(x) [Stopping Criterion]", "scale": {"domain": [-18.73, -0.6], "nice": false, "zero": false}}}},
  {"data": {"values": [{"i": 5, "v": -4.67}]}, "mark": {"type": "point", "shape": "M0,-1L0.225,-0.309L0.951,-0.309L0.363,0.118L0.588,0.809L0,0.382L-0.588,0.809L-0.363,0.118L-0.951,-0.309L-0.225,-0.309Z", "size": 250, "filled": true, "fill": "#2ca02c", "stroke": "#000000", "strokeWidth": 1, "opacity": 1},
   "encoding": {"x": {"field": "i", "type": "quantitative", "title": "Iteration", "scale": {"domain": [1, 250], "nice": false, "zero": false}}, "y": {"field": "v", "type": "quantitative", "title": "LogEIPC(x) [Stopping Criterion]", "scale": {"domain": [-18.73, -0.6], "nice": false, "zero": false}}}},
  {"data": {"values": [{"i": 32.4, "i2": 106.4, "v": -0.92, "v2": -3.05}]}, "mark": {"type": "rect", "fill": "#ffffdd", "stroke": "#8c8c8c", "strokeWidth": 1, "cornerRadius": 5, "opacity": 0.95},
   "encoding": {"x": {"field": "i", "type": "quantitative", "title": "Iteration", "scale": {"domain": [1, 250], "nice": false, "zero": false}}, "x2": {"field": "i2"}, "y": {"field": "v", "type": "quantitative", "title": "LogEIPC(x) [Stopping Criterion]", "scale": {"domain": [-18.73, -0.6], "nice": false, "zero": false}}, "y2": {"field": "v2"}}},
  {"data": {"values": [{"i": 34.35, "v": -1.55, "t": ["Stop: iter 5", "Cost-Adj Regret: 2.7327"]}]}, "mark": {"type": "text", "align": "left", "baseline": "middle", "fontSize": 15.5, "lineHeight": 16, "font": "Liberation Serif", "color": "#262626"},
   "encoding": {"x": {"field": "i", "type": "quantitative", "title": "Iteration", "scale": {"domain": [1, 250], "nice": false, "zero": false}}, "y": {"field": "v", "type": "quantitative", "title": "LogEIPC(x) [Stopping Criterion]", "scale": {"domain": [-18.73, -0.6], "nice": false, "zero": false}}, "text": {"field": "t"}}}
 ]
}
]
}
